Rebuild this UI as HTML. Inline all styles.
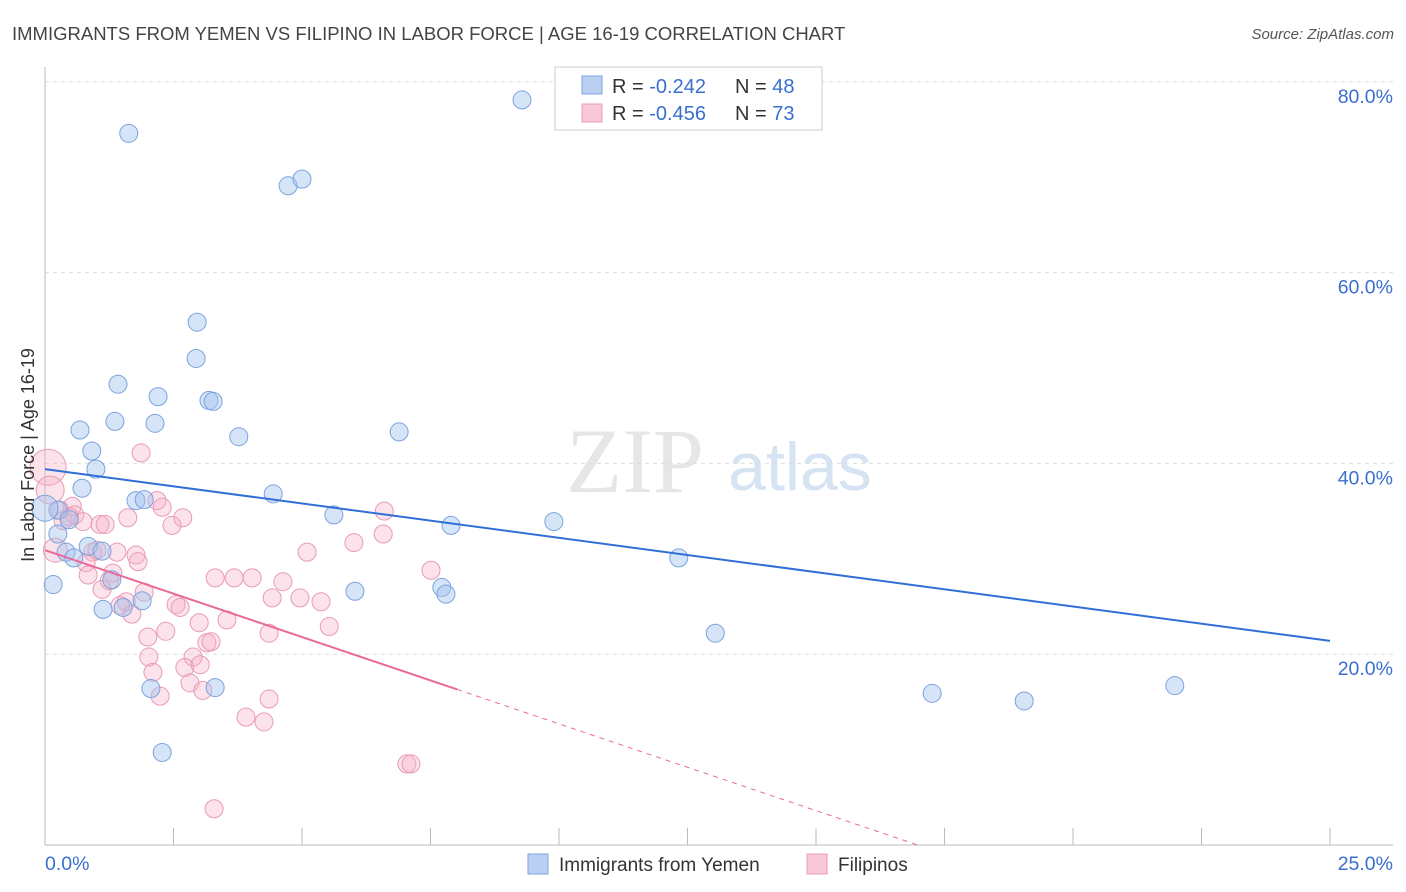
<!DOCTYPE html>
<html><head><meta charset="utf-8"><style>
body{margin:0;background:#fff;font-family:"Liberation Sans",sans-serif;}
svg{display:block}
</style></head><body>
<svg id="chart" width="1406" height="892">
<text x="12" y="40" font-size="18.5" fill="#444">IMMIGRANTS FROM YEMEN VS FILIPINO IN LABOR FORCE | AGE 16-19 CORRELATION CHART</text>
<text x="1394" y="39" font-size="15" fill="#555" font-style="italic" text-anchor="end">Source: ZipAtlas.com</text>
<g>
<text x="635" y="492" font-size="92" fill="#e6e6e6" font-family="Liberation Serif,serif" text-anchor="middle">ZIP</text>
<text x="800" y="490" font-size="68" fill="#d5e3f3" text-anchor="middle">atlas</text>
</g>
<g id="grid"></g>
<g id="axes"></g>
<g id="marks"></g>
<text transform="translate(34,455) rotate(-90)" font-size="18" fill="#333" text-anchor="middle">In Labor Force | Age 16-19</text>
<g>
<rect x="555" y="67" width="267" height="63" fill="#fff" stroke="#ccc"/>
<rect x="582" y="76" width="20" height="18" fill="#b9d0f3" stroke="#7ba3de"/>
<text x="612" y="93" font-size="20" fill="#333">R = <tspan fill="#3a6fd0">-0.242</tspan></text>
<text x="735" y="93" font-size="20" fill="#333">N = <tspan fill="#3a6fd0">48</tspan></text>
<rect x="582" y="104" width="20" height="18" fill="#f9c9d8" stroke="#e89ab5"/>
<text x="612" y="120" font-size="20" fill="#333">R = <tspan fill="#3a6fd0">-0.456</tspan></text>
<text x="735" y="120" font-size="20" fill="#333">N = <tspan fill="#3a6fd0">73</tspan></text>
</g>
<g>
<rect x="528" y="854" width="20" height="20" fill="#b9d0f3" stroke="#7ba3de"/>
<text x="559" y="871" font-size="19" fill="#333">Immigrants from Yemen</text>
<rect x="807" y="854" width="20" height="20" fill="#f9c9d8" stroke="#e89ab5"/>
<text x="838" y="871" font-size="19" fill="#333">Filipinos</text>
</g>
</svg>
<script>
const yTicks=[20,40,60,80];
const yTickLabels=["20.0%","40.0%","60.0%","80.0%"];
const xTicks=[0,2.5,5,7.5,10,12.5,15,17.5,20,22.5,25];
const blueX=[9.28,1.63,4.73,5.0,2.96,2.94,1.42,2.20,3.19,3.27,1.36,2.14,0.68,3.77,6.89,0.91,0.99,0.72,1.77,1.93,4.44,0.25,0.47,5.62,7.90,9.90,0.25,0.84,0.41,0.56,1.11,12.33,0.16,1.30,6.03,7.72,7.80,1.89,1.13,1.52,13.04,2.06,3.31,17.26,19.05,21.98,2.28,0];
const blueY=[78.1,74.6,69.1,69.8,54.8,51.0,48.3,47.0,46.6,46.5,44.4,44.2,43.5,42.8,43.3,41.3,39.4,37.4,36.1,36.2,36.8,35.1,34.1,34.6,33.5,33.9,32.6,31.3,30.7,30.1,30.8,30.1,27.3,27.8,26.6,27.0,26.3,25.6,24.7,24.9,22.2,16.4,16.5,15.9,15.1,16.7,9.7,35.3];
const pinkX=[0.06,0.1,0.2,1.87,0.53,0.29,0.58,0.35,0.47,0.74,1.07,1.17,1.61,2.18,2.28,2.68,2.47,0.93,1.01,1.40,1.77,1.81,5.10,6.01,6.60,6.58,0.80,0.84,1.32,1.25,3.31,3.68,4.03,4.63,4.42,4.96,5.37,1.93,1.11,1.58,1.46,1.69,2.55,2.63,7.51,3.54,3.00,2.35,2.00,4.36,5.53,3.15,3.23,2.88,2.02,2.72,3.02,2.10,2.82,3.07,2.24,4.36,3.91,4.26,7.04,7.12,3.29];
const pinkY=[39.6,37.2,30.9,41.1,35.5,35.1,34.6,34.0,34.4,33.9,33.6,33.6,34.3,36.1,35.4,34.3,33.5,30.7,30.9,30.7,30.4,29.7,30.7,31.7,35.0,32.6,29.6,28.3,28.5,27.7,28.0,28.0,28.0,27.6,25.9,25.9,25.5,26.5,26.8,25.5,25.1,24.2,25.2,24.9,28.8,23.6,23.3,22.4,21.8,22.2,22.9,21.2,21.3,19.7,19.7,18.6,18.9,18.1,17.0,16.2,15.6,15.3,13.4,12.9,8.5,8.5,3.8];
const blueTrend=[39.4,21.4];
const pinkTrend=[30.9,-1.82];
const pinkSolidEnd=8.02;

const NS="http://www.w3.org/2000/svg";
const X=v=>45+v/25*1285;
const Y=v=>845-v*9.54;
function mk(tag,attrs,parent){const e=document.createElementNS(NS,tag);for(const k in attrs)e.setAttribute(k,attrs[k]);parent.appendChild(e);return e;}
const grid=document.getElementById('grid'),axes=document.getElementById('axes'),marks=document.getElementById('marks');
yTicks.forEach((t,i)=>{
 const l=mk('line',{x1:45,x2:1393,y1:Y(t),y2:Y(t),stroke:'#ddd','stroke-dasharray':'4,4'},grid);
 
 
 const tx=mk('text',{x:1393,y:Y(t)+21,'font-size':19.5,fill:'#3a6fd0','text-anchor':'end'},axes);
 tx.textContent=yTickLabels[i];
 
 
});
const yl=mk('line',{x1:45,x2:45,y1:67,y2:845,stroke:'#bbb'},axes);


const xl=mk('line',{x1:45,x2:1393,y1:845,y2:845,stroke:'#bbb'},axes);


xTicks.forEach(t=>{
 const k=mk('line',{x1:X(t),x2:X(t),y1:828,y2:845,stroke:'#bbb'},axes);
 
 
});
const x0=mk('text',{x:45,y:870,'font-size':19.5,fill:'#3a6fd0'},axes);x0.textContent='0.0%';


const x1=mk('text',{x:1393,y:870,'font-size':19.5,fill:'#3a6fd0','text-anchor':'end'},axes);x1.textContent='25.0%';


const bigR=[18,14,12];
pinkX.forEach((v,i)=>{
 const c=mk('circle',{cx:X(v),cy:Y(pinkY[i]),r:i<3?bigR[i]:9,fill:'rgba(246,175,198,0.35)',stroke:'#e99ab6','stroke-width':1},marks);
 
 
});
blueX.forEach((v,i)=>{
 const c=mk('circle',{cx:X(v),cy:Y(blueY[i]),r:i==blueX.length-1?13:9,fill:'rgba(165,195,238,0.45)',stroke:'#7ba3de','stroke-width':1},marks);
 
 
});
const bt=mk('line',{x1:X(0),y1:Y(blueTrend[0]),x2:X(25),y2:Y(blueTrend[1]),stroke:'#2f6fd6','stroke-width':2},marks);


const pe=pinkTrend[0]+pinkTrend[1]*pinkSolidEnd;
const pt=mk('line',{x1:X(0),y1:Y(pinkTrend[0]),x2:X(pinkSolidEnd),y2:Y(pe),stroke:'#e8699a','stroke-width':2},marks);


const zx=-pinkTrend[0]/pinkTrend[1];
const pd=mk('line',{x1:X(pinkSolidEnd),y1:Y(pe),x2:X(zx),y2:Y(0),stroke:'#e8699a','stroke-width':1,'stroke-dasharray':'5,5'},marks);


</script>
</body></html>
